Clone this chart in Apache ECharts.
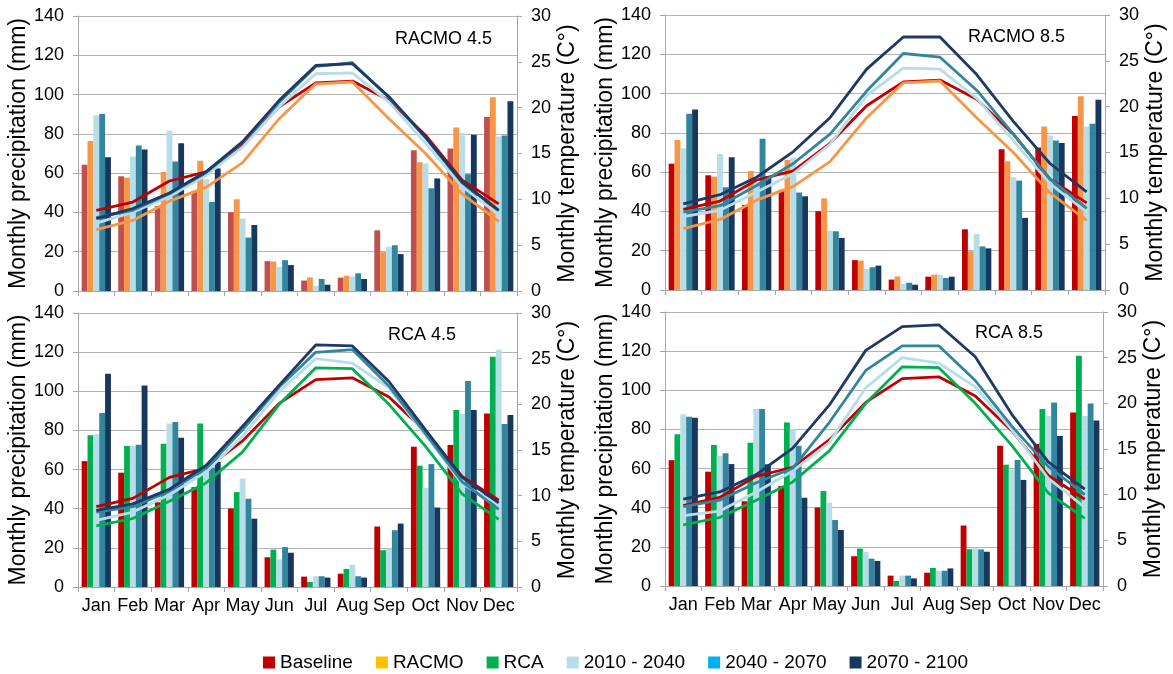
<!DOCTYPE html>
<html>
<head>
<meta charset="utf-8">
<script src="https://cdn.jsdelivr.net/npm/echarts@6/dist/echarts.min.js"></script>
<style>
html,body{margin:0;padding:0;background:#fff;}
#chart{width:1173px;height:674px;}
</style>
</head>
<body>
<div id="chart"></div>
<script>
// ---------- DATA ----------
const months = ['Jan','Feb','Mar','Apr','May','Jun','Jul','Aug','Sep','Oct','Nov','Dec'];
const precipTicks = [0,20,40,60,80,100,120,140];
const tempTicks = [0,5,10,15,20,25,30];
const panelTitles = ['RACMO 4.5','RACMO 8.5','RCA 4.5','RCA 8.5'];
const legendNames = ['Baseline','RACMO','RCA','2010 - 2040','2040 - 2070','2070 - 2100'];

// Precipitation (mm)
const precipBaseline = [64.3, 58.4, 43.3, 51.0, 40.1, 15.2, 5.3, 6.8, 30.9, 71.6, 72.6, 88.6];
const precipRacmo    = [76.4, 57.7, 60.6, 66.3, 46.7, 15.0, 6.9, 7.8, 19.8, 65.5, 83.2, 98.6];
const precipRca      = [77.5, 72.0, 73.2, 83.5, 48.5, 19.1, 2.6, 9.2, 18.8, 62.0, 90.4, 117.6];

const precipRacmo45_2010 = [89.3, 68.5, 81.7, 57.0, 36.9, 12.3, 2.7, 7.4, 22.5, 65.0, 80.5, 78.7];
const precipRacmo45_2040 = [90.1, 74.1, 65.9, 45.3, 27.2, 15.7, 6.1, 9.0, 23.3, 52.3, 59.5, 79.2];
const precipRacmo45_2070 = [68.1, 72.0, 75.2, 62.4, 33.6, 13.2, 3.2, 6.1, 18.8, 57.3, 79.6, 96.6];

const precipRacmo85_2010 = [72.2, 69.3, 55.0, 67.4, 30.2, 10.7, 3.1, 7.8, 28.5, 57.4, 78.7, 83.2];
const precipRacmo85_2040 = [89.7, 52.3, 77.0, 49.6, 29.9, 11.6, 3.7, 6.1, 22.2, 55.7, 76.1, 84.6];
const precipRacmo85_2070 = [91.9, 67.6, 58.0, 47.7, 26.5, 12.4, 2.7, 6.8, 21.2, 36.7, 74.9, 96.8];

const precipRca45_2010 = [78.0, 72.0, 83.5, 60.0, 55.4, 14.1, 5.5, 11.4, 19.6, 50.7, 88.4, 121.2];
const precipRca45_2040 = [88.9, 72.7, 84.3, 61.0, 45.1, 20.4, 5.5, 5.5, 29.0, 62.8, 105.3, 83.3];
const precipRca45_2070 = [109.0, 103.0, 76.3, 63.9, 34.9, 17.5, 4.8, 4.8, 32.4, 40.6, 90.5, 87.9];

const precipRca85_2010 = [87.7, 66.4, 90.4, 80.1, 42.6, 17.5, 5.3, 7.8, 19.3, 59.6, 86.9, 86.9];
const precipRca85_2040 = [86.5, 67.8, 90.4, 71.7, 33.7, 14.0, 5.3, 7.8, 18.7, 64.4, 93.7, 93.3];
const precipRca85_2070 = [86.0, 62.3, 62.2, 45.1, 28.6, 12.8, 3.9, 9.0, 17.5, 54.2, 76.6, 84.6];

// Temperature (°C)
const tempBaseline = [8.8, 9.7, 12.0, 13.0, 16.0, 20.1, 22.7, 22.9, 20.8, 17.0, 12.1, 9.5];
const tempRacmo    = [6.7, 7.7, 9.8, 11.3, 14.0, 18.8, 22.6, 22.8, 18.8, 15.0, 10.6, 7.6];
const tempRca      = [6.7, 7.5, 9.4, 11.4, 14.8, 20.0, 24.0, 23.9, 20.0, 15.4, 10.2, 7.4];

const tempRacmo45_2010 = [7.4, 8.6, 10.3, 12.6, 15.7, 20.1, 23.7, 23.8, 20.6, 16.1, 11.4, 8.3];
const tempRacmo45_2040 = [8.0, 8.8, 10.6, 12.9, 16.2, 20.6, 24.5, 24.9, 21.1, 16.7, 11.8, 8.8];
const tempRacmo45_2070 = [7.9, 9.0, 10.7, 13.0, 16.3, 20.8, 24.6, 24.8, 21.2, 16.8, 11.9, 8.8];

const tempRacmo85_2010 = [8.0, 8.7, 10.7, 12.7, 15.9, 21.2, 24.2, 24.1, 20.9, 16.3, 11.6, 8.5];
const tempRacmo85_2040 = [8.5, 9.2, 11.4, 13.8, 17.0, 21.7, 25.8, 25.4, 21.8, 17.0, 12.1, 8.9];
const tempRacmo85_2070 = [9.4, 10.4, 12.3, 15.1, 18.8, 24.1, 27.6, 27.6, 23.5, 18.4, 13.8, 10.7];

const tempRca45_2010 = [7.3, 8.2, 10.1, 12.6, 16.5, 21.4, 25.0, 24.5, 21.8, 16.6, 11.3, 9.0];
const tempRca45_2040 = [8.2, 8.8, 10.5, 13.0, 17.2, 21.9, 25.7, 26.0, 22.0, 16.8, 11.5, 8.5];
const tempRca45_2070 = [8.4, 9.1, 10.7, 13.3, 17.6, 22.1, 26.5, 26.4, 22.5, 17.2, 12.0, 9.2];

const tempRca85_2010 = [7.7, 8.2, 10.3, 12.6, 15.7, 21.7, 25.0, 24.4, 21.8, 17.1, 11.8, 8.6];
const tempRca85_2040 = [8.7, 9.4, 11.3, 12.9, 17.9, 23.6, 26.3, 26.3, 22.5, 17.5, 13.1, 10.0];
const tempRca85_2070 = [9.5, 10.3, 12.2, 15.1, 19.8, 25.8, 28.4, 28.6, 25.1, 18.8, 13.6, 10.6];

// ---------- STYLE ----------
const FONT = "'Liberation Sans', Arial, sans-serif";
const C = {
  base: '#C00000', baseTL: '#C0504D', racmo: '#F79646', rca: '#00B050',
  p1: '#B7DEE8', p2: '#31859C', p3: '#17375E', line3: '#1F3864'
};
const legendColors = ['#C00000','#FFC000','#00B050','#B7DEE8','#00B0F0','#17375E'];
const gridColor = '#B3B3B3';
const axisColor = '#A6A6A6';

const panels = [
  { grid:{left:78, top:16, width:439, height:275}, title:{left:395, top:30},
    model:'RACMO', modelColor:C.racmo, baseColor:C.baseTL, showMonths:false,
    pModel:precipRacmo, tModel:tempRacmo,
    p:[precipRacmo45_2010, precipRacmo45_2040, precipRacmo45_2070],
    t:[tempRacmo45_2010, tempRacmo45_2040, tempRacmo45_2070] },
  { grid:{left:665, top:15, width:440, height:275}, title:{left:968, top:28},
    model:'RACMO', modelColor:C.racmo, baseColor:C.base, showMonths:false,
    pModel:precipRacmo, tModel:tempRacmo,
    p:[precipRacmo85_2010, precipRacmo85_2040, precipRacmo85_2070],
    t:[tempRacmo85_2010, tempRacmo85_2040, tempRacmo85_2070] },
  { grid:{left:78, top:313, width:439, height:274}, title:{left:388, top:326},
    model:'RCA', modelColor:C.rca, baseColor:C.base, showMonths:true,
    pModel:precipRca, tModel:tempRca,
    p:[precipRca45_2010, precipRca45_2040, precipRca45_2070],
    t:[tempRca45_2010, tempRca45_2040, tempRca45_2070] },
  { grid:{left:665, top:312, width:438, height:274}, title:{left:975, top:324},
    model:'RCA', modelColor:C.rca, baseColor:C.base, showMonths:true,
    pModel:precipRca, tModel:tempRca,
    p:[precipRca85_2010, precipRca85_2040, precipRca85_2070],
    t:[tempRca85_2010, tempRca85_2040, tempRca85_2070] }
];

const grids = [], xAxes = [], yAxes = [], series = [], titles = [];
const periodNames = ['2010 - 2040','2040 - 2070','2070 - 2100'];
const periodBar = [C.p1, C.p2, C.p3];
const periodLine = [C.p1, C.p2, C.line3];

panels.forEach((pn, i) => {
  grids.push(Object.assign({}, pn.grid));
  titles.push({
    text: panelTitles[i], left: pn.title.left, top: pn.title.top, padding: 0,
    textStyle: { fontFamily: FONT, fontSize: 18, fontWeight: 'normal', color: '#000' }
  });
  xAxes.push({
    type: 'category', gridIndex: i, data: months, boundaryGap: true,
    axisLine: { show: true, lineStyle: { color: axisColor, width: 1 } },
    axisTick: { show: true, length: 5, interval: 0, lineStyle: { color: axisColor } },
    axisLabel: { show: pn.showMonths, interval: 0, fontFamily: FONT, fontSize: 18, color: '#000', margin: 10 }
  });
  yAxes.push({
    type: 'value', gridIndex: i, min: 0, max: 140, interval: 20, position: 'left',
    name: 'Monthly precipitation (mm)', nameLocation: 'middle', nameGap: 46,
    nameTextStyle: { fontFamily: FONT, fontSize: 23, color: '#000' },
    axisLine: { show: true, lineStyle: { color: axisColor } },
    axisTick: { show: true, length: 5, lineStyle: { color: axisColor } },
    axisLabel: { fontFamily: FONT, fontSize: 18, color: '#000', margin: 14,
      formatter: v => precipTicks.includes(v) ? String(v) : '' },
    splitLine: { show: true, lineStyle: { color: gridColor, width: 1 } }
  });
  yAxes.push({
    type: 'value', gridIndex: i, min: 0, max: 30, interval: 5, position: 'right',
    name: 'Monthly temperature (C°)', nameLocation: 'middle', nameGap: 39,
    nameTextStyle: { fontFamily: FONT, fontSize: 23, color: '#000' },
    axisLine: { show: true, lineStyle: { color: axisColor } },
    axisTick: { show: true, length: 5, lineStyle: { color: axisColor } },
    axisLabel: { fontFamily: FONT, fontSize: 18, color: '#000', margin: 14,
      formatter: v => tempTicks.includes(v) ? String(v) : '' },
    splitLine: { show: false }
  });
  const yP = i * 2, yT = i * 2 + 1;
  const barBase = { type: 'bar', xAxisIndex: i, yAxisIndex: yP, barGap: '0%', barCategoryGap: '20%', animation: false };
  series.push(Object.assign({}, barBase, { name: 'Baseline', data: precipBaseline, itemStyle: { color: pn.baseColor } }));
  series.push(Object.assign({}, barBase, { name: pn.model, data: pn.pModel, itemStyle: { color: pn.modelColor } }));
  for (let k = 0; k < 3; k++) {
    series.push(Object.assign({}, barBase, { name: periodNames[k], data: pn.p[k], itemStyle: { color: periodBar[k] } }));
  }
  const lineBase = { type: 'line', xAxisIndex: i, yAxisIndex: yT, symbol: 'none', animation: false, z: 5 };
  series.push(Object.assign({}, lineBase, { name: 'Baseline', data: tempBaseline, lineStyle: { color: C.base, width: 2.8 }, itemStyle: { color: C.base } }));
  series.push(Object.assign({}, lineBase, { name: pn.model, data: pn.tModel, lineStyle: { color: pn.modelColor, width: 2.8 }, itemStyle: { color: pn.modelColor } }));
  for (let k = 0; k < 3; k++) {
    series.push(Object.assign({}, lineBase, { name: periodNames[k], data: pn.t[k], lineStyle: { color: periodLine[k], width: 2.8 }, itemStyle: { color: periodLine[k] } }));
  }
});

const option = {
  backgroundColor: '#fff',
  animation: false,
  textStyle: { fontFamily: FONT },
  title: titles,
  grid: grids,
  xAxis: xAxes,
  yAxis: yAxes,
  legend: {
    top: 653, left: 263, icon: 'rect', itemWidth: 12, itemHeight: 12, itemGap: 23, padding: 0,
    selectedMode: false,
    textStyle: { fontFamily: FONT, fontSize: 19, color: '#000' },
    data: legendNames.map((n, k) => ({ name: n, icon: 'rect', itemStyle: { color: legendColors[k] } }))
  },
  series: series
};

const chart = echarts.init(document.getElementById('chart'), null, { renderer: 'canvas' });
chart.setOption(option);
</script>
</body>
</html>
